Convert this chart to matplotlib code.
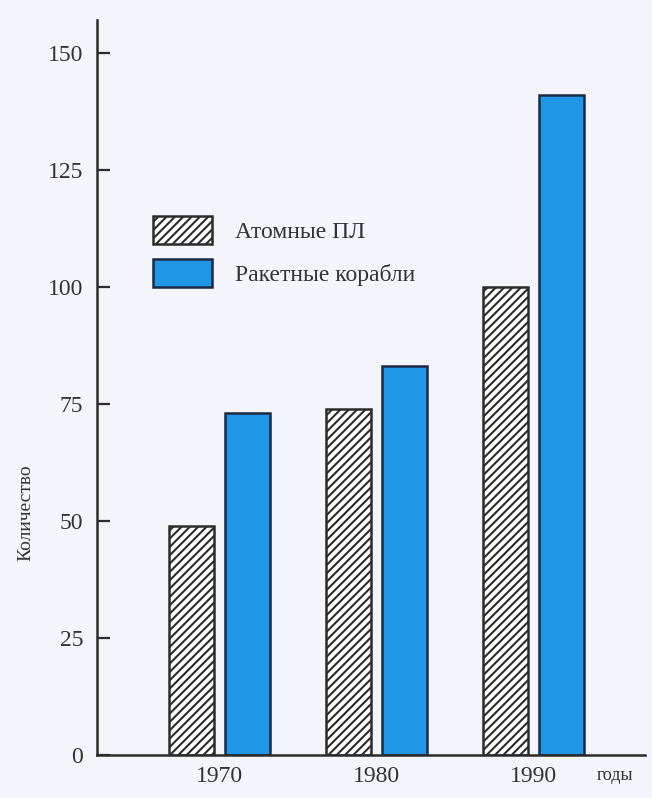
import numpy as np
import matplotlib.pyplot as plt
from matplotlib.patches import Patch

plt.rcParams['font.family'] = ['Liberation Serif', 'DejaVu Serif']
plt.rcParams['hatch.linewidth'] = 1.5
plt.rcParams['hatch.color'] = '#555555'

years = ["1970", "1980", "1990"]
nuclear_subs = [49, 74, 100]
missile_ships = [73, 83, 141]
yticks = [0, 25, 50, 75, 100, 125, 150]

paper = '#f3f5fa'
blue = '#1f97e6'
ink = '#2b2b2b'


def main():
    fig = plt.figure(figsize=(6.52, 7.98), dpi=100, facecolor=paper)
    ax = fig.add_axes([0.1488, 0.0539, 0.8405, 0.921])
    ax.set_facecolor(paper)

    x = np.arange(len(years))
    off = 0.178
    w = 0.287
    ax.bar(x - off, nuclear_subs, w, color='white', edgecolor=ink,
           linewidth=1.8, hatch='////')
    ax.bar(x + off, missile_ships, w, color=blue, edgecolor='#1a2a44',
           linewidth=1.8)

    ax.set_xlim(-0.78, 2.71)
    ax.set_ylim(0, 157)
    ax.set_yticks(yticks)
    ax.set_xticks(x)
    ax.set_xticklabels(years)
    ax.tick_params(axis='y', direction='in', length=9, width=1.6,
                   color=ink, labelsize=17, labelcolor='#333333', pad=10)
    ax.tick_params(axis='x', length=0, labelsize=17, labelcolor='#333333',
                   pad=8)
    for s in ['top', 'right']:
        ax.spines[s].set_visible(False)
    for s in ['left', 'bottom']:
        ax.spines[s].set_color(ink)
        ax.spines[s].set_linewidth(1.8)

    ax.text(2.52, -0.028, "годы", transform=ax.get_xaxis_transform(),
            ha='center', va='center', fontsize=13, color='#333333')
    ax.set_ylabel("Количество", fontsize=14, color='#333333')
    ax.yaxis.set_label_coords(-0.115, 0.33)

    handles = [Patch(facecolor='white', edgecolor=ink, hatch='////',
                     linewidth=1.8),
               Patch(facecolor=blue, edgecolor='#1a2a44', linewidth=1.8)]
    ax.legend(handles, ["Атомные ПЛ", "Ракетные корабли"],
              loc='upper left', bbox_to_anchor=(0.080, 0.750),
              frameon=False, fontsize=17, borderpad=0, handlelength=2.5,
              handleheight=1.5, handletextpad=1.0, labelspacing=0.6,
              labelcolor='#333333')

    fig.savefig("out.png", dpi=100, facecolor=paper)


if __name__ == "__main__":
    main()
